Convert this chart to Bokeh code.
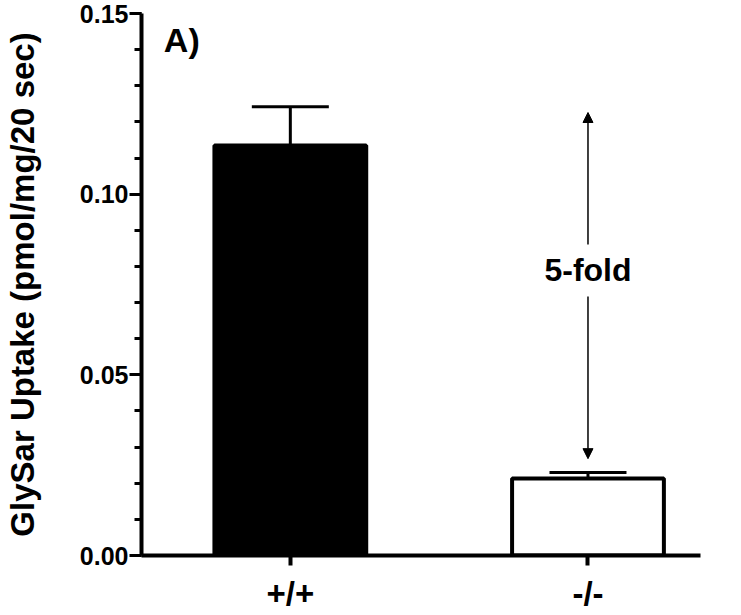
import numpy as np
from bokeh.plotting import figure
from bokeh.models import (Range1d, FixedTicker, Whisker, TeeHead, Arrow, NormalHead,
                          Label, ColumnDataSource, NumeralTickFormatter)
from bokeh.embed import file_html
from bokeh.resources import INLINE

# ---- data ----
genotypes = ["+/+", "-/-"]
uptake_mean = [0.1135, 0.0213]
uptake_sem = [0.0107, 0.0017]
bar_colors = ["black", "white"]
y_ticks = [0.00, 0.05, 0.10, 0.15]
y_minor_step = 0.01
y_label = "GlySar Uptake (pmol/mg/20 sec)"
panel_label = "A)"
fold_text = "5-fold"
fold_arrow_bottom = 0.0268
fold_arrow_top = 0.1226
fold_label_y = 0.0789
panel_label_x = 0.075
panel_label_y = 0.1428

FONT = "Liberation Sans"

xpos = [i + 0.5 for i in range(len(genotypes))]
upper = [m + s for m, s in zip(uptake_mean, uptake_sem)]
src = ColumnDataSource(dict(x=xpos, top=uptake_mean, upper=upper,
                            fill=bar_colors, label=genotypes))

p = figure(width=741, height=615, output_backend="svg", toolbar_location=None,
           x_range=Range1d(0, 1.878), y_range=Range1d(0, 0.15),
           min_border_left=135, min_border_right=41, min_border_top=13,
           min_border_bottom=60)
p.xgrid.grid_line_color = None
p.ygrid.grid_line_color = None
p.outline_line_color = None
p.background_fill_color = "white"

# bars
p.vbar(x="x", top="top", bottom=0, width=0.51, fill_color="fill",
       line_color="black", line_width=4, source=src)

# error bars (upper only)
w = Whisker(source=src, base="x", lower="top", upper="upper", dimension="height",
            line_color="black", line_width=3,
            upper_head=TeeHead(size=77, line_width=3, line_color="black"),
            lower_head=None)
p.add_layout(w)

# double arrow
p.add_layout(Arrow(x_start=xpos[1], y_start=fold_arrow_bottom,
                   x_end=xpos[1], y_end=fold_arrow_top,
                   start=NormalHead(size=10, fill_color="black", line_color="black", line_width=1),
                   end=NormalHead(size=10, fill_color="black", line_color="black", line_width=1),
                   line_color="black", line_width=1.5))
p.add_layout(Label(x=xpos[1], y=fold_label_y, text=fold_text, text_align="center",
                   text_baseline="middle", text_font_size="32px", text_font_style="bold",
                   text_font=FONT, text_color="black",
                   background_fill_color="white", padding=8))

p.add_layout(Label(x=panel_label_x, y=panel_label_y, text=panel_label, text_align="left",
                   text_baseline="middle", text_font_size="34px", text_font_style="bold",
                   text_font=FONT, text_color="black"))

# y axis
ya = p.yaxis[0]
ya.ticker = FixedTicker(ticks=y_ticks,
                        minor_ticks=list(np.arange(0, y_ticks[-1] + 1e-9, y_minor_step)))
ya.formatter = NumeralTickFormatter(format="0.00")
ya.axis_line_width = 4
ya.axis_line_color = "black"
ya.major_tick_line_width = 3
ya.major_tick_out = 12
ya.major_tick_in = 0
ya.minor_tick_line_width = 3
ya.minor_tick_out = 7
ya.minor_tick_in = 0
ya.major_label_standoff = 1
ya.major_label_text_font = FONT
ya.major_label_text_font_style = "bold"
ya.major_label_text_font_size = "25px"
ya.major_label_text_color = "black"
ya.axis_label = y_label
ya.axis_label_text_font = FONT
ya.axis_label_text_font_style = "bold"
ya.axis_label_text_font_size = "33px"
ya.axis_label_text_color = "black"
ya.axis_label_standoff = 36

# x axis
xa = p.xaxis[0]
xa.ticker = FixedTicker(ticks=xpos, minor_ticks=[])
xa.major_label_overrides = {x: g for x, g in zip(xpos, genotypes)}
xa.axis_line_width = 4
xa.axis_line_color = "black"
xa.major_tick_line_width = 4
xa.major_tick_out = 10
xa.major_tick_in = 0
xa.minor_tick_line_color = None
xa.major_label_standoff = 9
xa.major_label_text_font = FONT
xa.major_label_text_font_style = "bold"
xa.major_label_text_font_size = "33px"
xa.major_label_text_color = "black"

open("out.html", "w").write(file_html(p, INLINE))
